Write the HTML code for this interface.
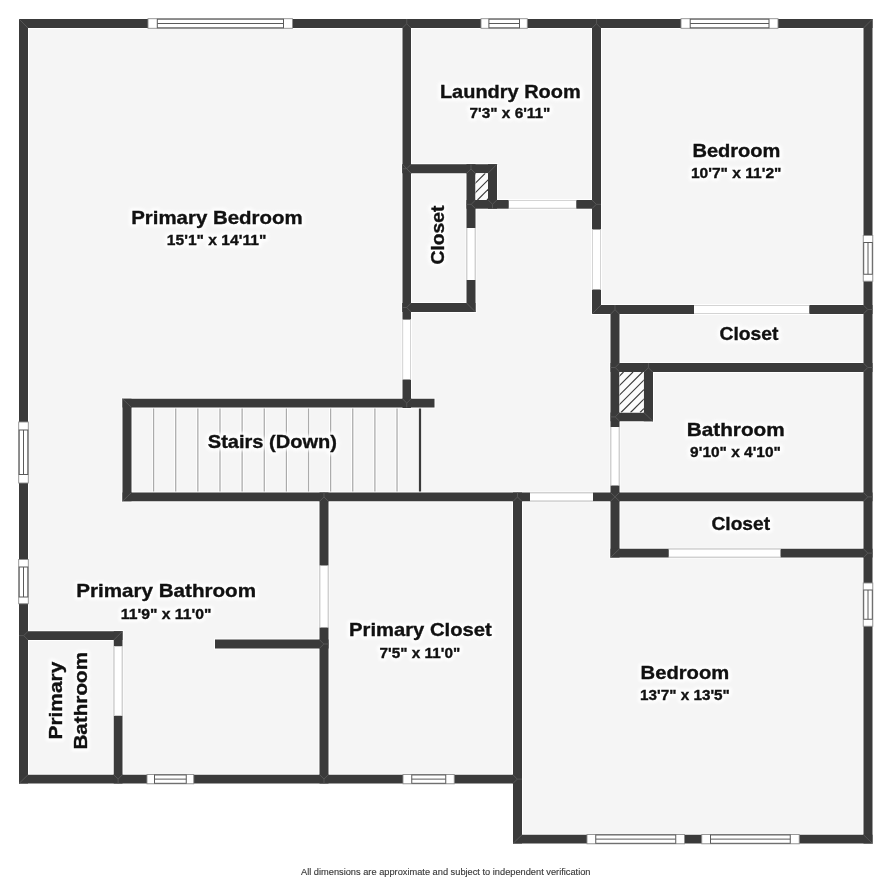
<!DOCTYPE html>
<html><head><meta charset="utf-8"><style>
html,body{margin:0;padding:0;background:#fff;width:891px;height:881px;overflow:hidden}
svg{display:block;will-change:transform}
text{font-family:"Liberation Sans",sans-serif;font-weight:bold;fill:#111;stroke:#111;stroke-width:0.35px;text-anchor:middle}
text.halo{fill:#fff;stroke:#fff;stroke-width:6px;stroke-linejoin:round;opacity:0.9;filter:url(#hb)}
</style></head><body>
<svg width="891" height="881" viewBox="0 0 891 881">
<defs><filter id="hb" x="-20%" y="-50%" width="140%" height="200%"><feGaussianBlur stdDeviation="1.6"/></filter></defs>
<rect x="19.00" y="19.00" width="853.50" height="482.25" fill="#f5f5f5"/>
<rect x="19.00" y="492.00" width="503.00" height="291.50" fill="#f5f5f5"/>
<rect x="513.00" y="492.00" width="359.50" height="351.50" fill="#f5f5f5"/>
<line x1="153.60" y1="407.50" x2="153.60" y2="492.50" stroke="#ffffff" stroke-width="3.2"/>
<line x1="153.60" y1="407.50" x2="153.60" y2="492.50" stroke="#ababab" stroke-width="1.3"/>
<line x1="175.73" y1="407.50" x2="175.73" y2="492.50" stroke="#ffffff" stroke-width="3.2"/>
<line x1="175.73" y1="407.50" x2="175.73" y2="492.50" stroke="#ababab" stroke-width="1.3"/>
<line x1="197.86" y1="407.50" x2="197.86" y2="492.50" stroke="#ffffff" stroke-width="3.2"/>
<line x1="197.86" y1="407.50" x2="197.86" y2="492.50" stroke="#ababab" stroke-width="1.3"/>
<line x1="219.99" y1="407.50" x2="219.99" y2="492.50" stroke="#ffffff" stroke-width="3.2"/>
<line x1="219.99" y1="407.50" x2="219.99" y2="492.50" stroke="#ababab" stroke-width="1.3"/>
<line x1="242.12" y1="407.50" x2="242.12" y2="492.50" stroke="#ffffff" stroke-width="3.2"/>
<line x1="242.12" y1="407.50" x2="242.12" y2="492.50" stroke="#ababab" stroke-width="1.3"/>
<line x1="264.25" y1="407.50" x2="264.25" y2="492.50" stroke="#ffffff" stroke-width="3.2"/>
<line x1="264.25" y1="407.50" x2="264.25" y2="492.50" stroke="#ababab" stroke-width="1.3"/>
<line x1="286.38" y1="407.50" x2="286.38" y2="492.50" stroke="#ffffff" stroke-width="3.2"/>
<line x1="286.38" y1="407.50" x2="286.38" y2="492.50" stroke="#ababab" stroke-width="1.3"/>
<line x1="308.51" y1="407.50" x2="308.51" y2="492.50" stroke="#ffffff" stroke-width="3.2"/>
<line x1="308.51" y1="407.50" x2="308.51" y2="492.50" stroke="#ababab" stroke-width="1.3"/>
<line x1="330.64" y1="407.50" x2="330.64" y2="492.50" stroke="#ffffff" stroke-width="3.2"/>
<line x1="330.64" y1="407.50" x2="330.64" y2="492.50" stroke="#ababab" stroke-width="1.3"/>
<line x1="352.77" y1="407.50" x2="352.77" y2="492.50" stroke="#ffffff" stroke-width="3.2"/>
<line x1="352.77" y1="407.50" x2="352.77" y2="492.50" stroke="#ababab" stroke-width="1.3"/>
<line x1="374.90" y1="407.50" x2="374.90" y2="492.50" stroke="#ffffff" stroke-width="3.2"/>
<line x1="374.90" y1="407.50" x2="374.90" y2="492.50" stroke="#ababab" stroke-width="1.3"/>
<line x1="397.03" y1="407.50" x2="397.03" y2="492.50" stroke="#ffffff" stroke-width="3.2"/>
<line x1="397.03" y1="407.50" x2="397.03" y2="492.50" stroke="#ababab" stroke-width="1.3"/>
<line x1="420.00" y1="407.50" x2="420.00" y2="492.50" stroke="#3a3a3a" stroke-width="2.2"/>
<rect x="19.00" y="19.00" width="853.50" height="9.00" fill="none" stroke="#ffffff" stroke-width="2.0"/>
<rect x="19.00" y="19.00" width="9.00" height="764.50" fill="none" stroke="#ffffff" stroke-width="2.0"/>
<rect x="863.50" y="19.00" width="9.00" height="824.50" fill="none" stroke="#ffffff" stroke-width="2.0"/>
<rect x="19.00" y="774.75" width="503.00" height="8.75" fill="none" stroke="#ffffff" stroke-width="2.0"/>
<rect x="513.00" y="834.75" width="359.50" height="8.75" fill="none" stroke="#ffffff" stroke-width="2.0"/>
<rect x="513.00" y="492.50" width="9.00" height="351.00" fill="none" stroke="#ffffff" stroke-width="2.0"/>
<rect x="402.50" y="19.00" width="8.50" height="389.00" fill="none" stroke="#ffffff" stroke-width="2.0"/>
<rect x="402.20" y="164.25" width="94.80" height="9.00" fill="none" stroke="#ffffff" stroke-width="2.0"/>
<rect x="466.50" y="164.25" width="9.00" height="147.75" fill="none" stroke="#ffffff" stroke-width="2.0"/>
<rect x="488.00" y="164.25" width="9.00" height="44.45" fill="none" stroke="#ffffff" stroke-width="2.0"/>
<rect x="466.50" y="200.00" width="134.50" height="8.70" fill="none" stroke="#ffffff" stroke-width="2.0"/>
<rect x="402.20" y="303.00" width="73.30" height="9.00" fill="none" stroke="#ffffff" stroke-width="2.0"/>
<rect x="592.00" y="19.00" width="9.00" height="295.00" fill="none" stroke="#ffffff" stroke-width="2.0"/>
<rect x="592.00" y="305.00" width="280.50" height="9.00" fill="none" stroke="#ffffff" stroke-width="2.0"/>
<rect x="610.50" y="305.00" width="9.00" height="252.50" fill="none" stroke="#ffffff" stroke-width="2.0"/>
<rect x="610.50" y="363.00" width="262.00" height="9.00" fill="none" stroke="#ffffff" stroke-width="2.0"/>
<rect x="643.75" y="363.00" width="9.25" height="58.25" fill="none" stroke="#ffffff" stroke-width="2.0"/>
<rect x="610.50" y="412.50" width="42.50" height="8.75" fill="none" stroke="#ffffff" stroke-width="2.0"/>
<rect x="122.50" y="492.50" width="750.00" height="8.75" fill="none" stroke="#ffffff" stroke-width="2.0"/>
<rect x="610.50" y="548.75" width="262.00" height="8.75" fill="none" stroke="#ffffff" stroke-width="2.0"/>
<rect x="122.50" y="398.75" width="312.00" height="8.75" fill="none" stroke="#ffffff" stroke-width="2.0"/>
<rect x="122.50" y="398.75" width="9.00" height="102.50" fill="none" stroke="#ffffff" stroke-width="2.0"/>
<rect x="319.50" y="492.50" width="9.00" height="291.00" fill="none" stroke="#ffffff" stroke-width="2.0"/>
<rect x="215.00" y="639.50" width="113.50" height="9.00" fill="none" stroke="#ffffff" stroke-width="2.0"/>
<rect x="19.00" y="631.25" width="103.50" height="8.75" fill="none" stroke="#ffffff" stroke-width="2.0"/>
<rect x="113.75" y="631.25" width="8.75" height="152.25" fill="none" stroke="#ffffff" stroke-width="2.0"/>
<rect x="19.00" y="19.00" width="853.50" height="9.00" fill="#3a3a3a"/>
<rect x="19.00" y="19.00" width="9.00" height="764.50" fill="#3a3a3a"/>
<rect x="863.50" y="19.00" width="9.00" height="824.50" fill="#3a3a3a"/>
<rect x="19.00" y="774.75" width="503.00" height="8.75" fill="#3a3a3a"/>
<rect x="513.00" y="834.75" width="359.50" height="8.75" fill="#3a3a3a"/>
<rect x="513.00" y="492.50" width="9.00" height="351.00" fill="#3a3a3a"/>
<rect x="402.50" y="19.00" width="8.50" height="389.00" fill="#3a3a3a"/>
<rect x="402.20" y="164.25" width="94.80" height="9.00" fill="#3a3a3a"/>
<rect x="466.50" y="164.25" width="9.00" height="147.75" fill="#3a3a3a"/>
<rect x="488.00" y="164.25" width="9.00" height="44.45" fill="#3a3a3a"/>
<rect x="466.50" y="200.00" width="134.50" height="8.70" fill="#3a3a3a"/>
<rect x="402.20" y="303.00" width="73.30" height="9.00" fill="#3a3a3a"/>
<rect x="592.00" y="19.00" width="9.00" height="295.00" fill="#3a3a3a"/>
<rect x="592.00" y="305.00" width="280.50" height="9.00" fill="#3a3a3a"/>
<rect x="610.50" y="305.00" width="9.00" height="252.50" fill="#3a3a3a"/>
<rect x="610.50" y="363.00" width="262.00" height="9.00" fill="#3a3a3a"/>
<rect x="643.75" y="363.00" width="9.25" height="58.25" fill="#3a3a3a"/>
<rect x="610.50" y="412.50" width="42.50" height="8.75" fill="#3a3a3a"/>
<rect x="122.50" y="492.50" width="750.00" height="8.75" fill="#3a3a3a"/>
<rect x="610.50" y="548.75" width="262.00" height="8.75" fill="#3a3a3a"/>
<rect x="122.50" y="398.75" width="312.00" height="8.75" fill="#3a3a3a"/>
<rect x="122.50" y="398.75" width="9.00" height="102.50" fill="#3a3a3a"/>
<rect x="319.50" y="492.50" width="9.00" height="291.00" fill="#3a3a3a"/>
<rect x="215.00" y="639.50" width="113.50" height="9.00" fill="#3a3a3a"/>
<rect x="19.00" y="631.25" width="103.50" height="8.75" fill="#3a3a3a"/>
<rect x="113.75" y="631.25" width="8.75" height="152.25" fill="#3a3a3a"/>
<line x1="19.00" y1="19.00" x2="28.00" y2="28.00" stroke="#585858" stroke-width="0.9"/>
<line x1="872.50" y1="19.00" x2="863.50" y2="28.00" stroke="#585858" stroke-width="0.9"/>
<line x1="19.00" y1="783.50" x2="28.00" y2="774.75" stroke="#585858" stroke-width="0.9"/>
<line x1="872.50" y1="843.50" x2="863.50" y2="834.75" stroke="#585858" stroke-width="0.9"/>
<line x1="513.00" y1="843.50" x2="522.00" y2="834.75" stroke="#585858" stroke-width="0.9"/>
<line x1="402.45" y1="28.00" x2="406.75" y2="23.70" stroke="#585858" stroke-width="0.9"/>
<line x1="411.05" y1="28.00" x2="406.75" y2="23.70" stroke="#585858" stroke-width="0.9"/>
<line x1="406.75" y1="23.70" x2="406.75" y2="19.00" stroke="#585858" stroke-width="0.9"/>
<line x1="592.20" y1="28.00" x2="596.50" y2="23.70" stroke="#585858" stroke-width="0.9"/>
<line x1="600.80" y1="28.00" x2="596.50" y2="23.70" stroke="#585858" stroke-width="0.9"/>
<line x1="596.50" y1="23.70" x2="596.50" y2="19.00" stroke="#585858" stroke-width="0.9"/>
<line x1="466.70" y1="173.25" x2="471.00" y2="168.95" stroke="#585858" stroke-width="0.9"/>
<line x1="475.30" y1="173.25" x2="471.00" y2="168.95" stroke="#585858" stroke-width="0.9"/>
<line x1="471.00" y1="168.95" x2="471.00" y2="164.25" stroke="#585858" stroke-width="0.9"/>
<line x1="610.70" y1="314.00" x2="615.00" y2="309.70" stroke="#585858" stroke-width="0.9"/>
<line x1="619.30" y1="314.00" x2="615.00" y2="309.70" stroke="#585858" stroke-width="0.9"/>
<line x1="615.00" y1="309.70" x2="615.00" y2="305.00" stroke="#585858" stroke-width="0.9"/>
<line x1="513.20" y1="501.25" x2="517.50" y2="496.95" stroke="#585858" stroke-width="0.9"/>
<line x1="521.80" y1="501.25" x2="517.50" y2="496.95" stroke="#585858" stroke-width="0.9"/>
<line x1="517.50" y1="496.95" x2="517.50" y2="492.50" stroke="#585858" stroke-width="0.9"/>
<line x1="319.70" y1="501.25" x2="324.00" y2="496.95" stroke="#585858" stroke-width="0.9"/>
<line x1="328.30" y1="501.25" x2="324.00" y2="496.95" stroke="#585858" stroke-width="0.9"/>
<line x1="324.00" y1="496.95" x2="324.00" y2="492.50" stroke="#585858" stroke-width="0.9"/>
<line x1="644.10" y1="372.00" x2="648.40" y2="367.70" stroke="#585858" stroke-width="0.9"/>
<line x1="652.70" y1="372.00" x2="648.40" y2="367.70" stroke="#585858" stroke-width="0.9"/>
<line x1="648.40" y1="367.70" x2="648.40" y2="363.00" stroke="#585858" stroke-width="0.9"/>
<line x1="488.20" y1="200.00" x2="492.50" y2="204.30" stroke="#585858" stroke-width="0.9"/>
<line x1="496.80" y1="200.00" x2="492.50" y2="204.30" stroke="#585858" stroke-width="0.9"/>
<line x1="492.50" y1="204.30" x2="492.50" y2="208.70" stroke="#585858" stroke-width="0.9"/>
<line x1="402.45" y1="398.75" x2="406.75" y2="403.05" stroke="#585858" stroke-width="0.9"/>
<line x1="411.05" y1="398.75" x2="406.75" y2="403.05" stroke="#585858" stroke-width="0.9"/>
<line x1="406.75" y1="403.05" x2="406.75" y2="407.50" stroke="#585858" stroke-width="0.9"/>
<line x1="319.70" y1="774.75" x2="324.00" y2="779.05" stroke="#585858" stroke-width="0.9"/>
<line x1="328.30" y1="774.75" x2="324.00" y2="779.05" stroke="#585858" stroke-width="0.9"/>
<line x1="324.00" y1="779.05" x2="324.00" y2="783.50" stroke="#585858" stroke-width="0.9"/>
<line x1="113.80" y1="774.75" x2="118.10" y2="779.05" stroke="#585858" stroke-width="0.9"/>
<line x1="122.40" y1="774.75" x2="118.10" y2="779.05" stroke="#585858" stroke-width="0.9"/>
<line x1="118.10" y1="779.05" x2="118.10" y2="783.50" stroke="#585858" stroke-width="0.9"/>
<line x1="28.00" y1="631.30" x2="23.70" y2="635.60" stroke="#585858" stroke-width="0.9"/>
<line x1="28.00" y1="639.90" x2="23.70" y2="635.60" stroke="#585858" stroke-width="0.9"/>
<line x1="23.70" y1="635.60" x2="19.00" y2="635.60" stroke="#585858" stroke-width="0.9"/>
<line x1="411.00" y1="164.45" x2="406.70" y2="168.75" stroke="#585858" stroke-width="0.9"/>
<line x1="411.00" y1="173.05" x2="406.70" y2="168.75" stroke="#585858" stroke-width="0.9"/>
<line x1="406.70" y1="168.75" x2="402.50" y2="168.75" stroke="#585858" stroke-width="0.9"/>
<line x1="411.00" y1="303.20" x2="406.70" y2="307.50" stroke="#585858" stroke-width="0.9"/>
<line x1="411.00" y1="311.80" x2="406.70" y2="307.50" stroke="#585858" stroke-width="0.9"/>
<line x1="406.70" y1="307.50" x2="402.50" y2="307.50" stroke="#585858" stroke-width="0.9"/>
<line x1="619.50" y1="363.20" x2="615.20" y2="367.50" stroke="#585858" stroke-width="0.9"/>
<line x1="619.50" y1="371.80" x2="615.20" y2="367.50" stroke="#585858" stroke-width="0.9"/>
<line x1="615.20" y1="367.50" x2="610.50" y2="367.50" stroke="#585858" stroke-width="0.9"/>
<line x1="619.50" y1="412.60" x2="615.20" y2="416.90" stroke="#585858" stroke-width="0.9"/>
<line x1="619.50" y1="421.20" x2="615.20" y2="416.90" stroke="#585858" stroke-width="0.9"/>
<line x1="615.20" y1="416.90" x2="610.50" y2="416.90" stroke="#585858" stroke-width="0.9"/>
<line x1="475.50" y1="200.05" x2="471.20" y2="204.35" stroke="#585858" stroke-width="0.9"/>
<line x1="475.50" y1="208.65" x2="471.20" y2="204.35" stroke="#585858" stroke-width="0.9"/>
<line x1="471.20" y1="204.35" x2="466.50" y2="204.35" stroke="#585858" stroke-width="0.9"/>
<line x1="863.50" y1="305.20" x2="867.80" y2="309.50" stroke="#585858" stroke-width="0.9"/>
<line x1="863.50" y1="313.80" x2="867.80" y2="309.50" stroke="#585858" stroke-width="0.9"/>
<line x1="867.80" y1="309.50" x2="872.50" y2="309.50" stroke="#585858" stroke-width="0.9"/>
<line x1="863.50" y1="363.20" x2="867.80" y2="367.50" stroke="#585858" stroke-width="0.9"/>
<line x1="863.50" y1="371.80" x2="867.80" y2="367.50" stroke="#585858" stroke-width="0.9"/>
<line x1="867.80" y1="367.50" x2="872.50" y2="367.50" stroke="#585858" stroke-width="0.9"/>
<line x1="863.50" y1="492.60" x2="867.80" y2="496.90" stroke="#585858" stroke-width="0.9"/>
<line x1="863.50" y1="501.20" x2="867.80" y2="496.90" stroke="#585858" stroke-width="0.9"/>
<line x1="867.80" y1="496.90" x2="872.50" y2="496.90" stroke="#585858" stroke-width="0.9"/>
<line x1="863.50" y1="548.80" x2="867.80" y2="553.10" stroke="#585858" stroke-width="0.9"/>
<line x1="863.50" y1="557.40" x2="867.80" y2="553.10" stroke="#585858" stroke-width="0.9"/>
<line x1="867.80" y1="553.10" x2="872.50" y2="553.10" stroke="#585858" stroke-width="0.9"/>
<line x1="592.00" y1="200.05" x2="596.30" y2="204.35" stroke="#585858" stroke-width="0.9"/>
<line x1="592.00" y1="208.65" x2="596.30" y2="204.35" stroke="#585858" stroke-width="0.9"/>
<line x1="596.30" y1="204.35" x2="601.00" y2="204.35" stroke="#585858" stroke-width="0.9"/>
<line x1="513.00" y1="774.80" x2="517.30" y2="779.10" stroke="#585858" stroke-width="0.9"/>
<line x1="513.00" y1="783.40" x2="517.30" y2="779.10" stroke="#585858" stroke-width="0.9"/>
<line x1="517.30" y1="779.10" x2="522.00" y2="779.10" stroke="#585858" stroke-width="0.9"/>
<line x1="319.50" y1="639.70" x2="323.80" y2="644.00" stroke="#585858" stroke-width="0.9"/>
<line x1="319.50" y1="648.30" x2="323.80" y2="644.00" stroke="#585858" stroke-width="0.9"/>
<line x1="323.80" y1="644.00" x2="328.50" y2="644.00" stroke="#585858" stroke-width="0.9"/>
<line x1="592.00" y1="314.00" x2="601.00" y2="305.00" stroke="#585858" stroke-width="0.9"/>
<line x1="122.50" y1="631.25" x2="113.75" y2="640.00" stroke="#585858" stroke-width="0.9"/>
<line x1="475.50" y1="312.00" x2="466.50" y2="303.00" stroke="#585858" stroke-width="0.9"/>
<line x1="497.00" y1="164.25" x2="488.00" y2="173.25" stroke="#585858" stroke-width="0.9"/>
<line x1="653.00" y1="421.25" x2="643.75" y2="412.50" stroke="#585858" stroke-width="0.9"/>
<line x1="610.50" y1="557.50" x2="619.50" y2="548.75" stroke="#585858" stroke-width="0.9"/>
<line x1="122.50" y1="398.75" x2="131.50" y2="407.50" stroke="#585858" stroke-width="0.9"/>
<line x1="122.50" y1="501.25" x2="131.50" y2="492.50" stroke="#585858" stroke-width="0.9"/>
<line x1="402.50" y1="164.25" x2="411.00" y2="173.25" stroke="#585858" stroke-width="0.9"/>
<line x1="610.50" y1="492.50" x2="615.00" y2="496.88" stroke="#585858" stroke-width="0.9"/>
<line x1="619.50" y1="492.50" x2="615.00" y2="496.88" stroke="#585858" stroke-width="0.9"/>
<line x1="610.50" y1="501.25" x2="615.00" y2="496.88" stroke="#585858" stroke-width="0.9"/>
<line x1="619.50" y1="501.25" x2="615.00" y2="496.88" stroke="#585858" stroke-width="0.9"/>
<clipPath id="h1"><rect x="475.5" y="173.25" width="12.5" height="26.75"/></clipPath>
<rect x="475.50" y="173.25" width="12.50" height="26.75" fill="#fbfbfb"/>
<g clip-path="url(#h1)" stroke="#3a3a3a" stroke-width="1.15"><line x1="363.50" y1="200" x2="390.25" y2="173.25"/><line x1="373.00" y1="200" x2="399.75" y2="173.25"/><line x1="382.50" y1="200" x2="409.25" y2="173.25"/><line x1="392.00" y1="200" x2="418.75" y2="173.25"/><line x1="401.50" y1="200" x2="428.25" y2="173.25"/><line x1="411.00" y1="200" x2="437.75" y2="173.25"/><line x1="420.50" y1="200" x2="447.25" y2="173.25"/><line x1="430.00" y1="200" x2="456.75" y2="173.25"/><line x1="439.50" y1="200" x2="466.25" y2="173.25"/><line x1="449.00" y1="200" x2="475.75" y2="173.25"/><line x1="458.50" y1="200" x2="485.25" y2="173.25"/><line x1="468.00" y1="200" x2="494.75" y2="173.25"/><line x1="477.50" y1="200" x2="504.25" y2="173.25"/><line x1="487.00" y1="200" x2="513.75" y2="173.25"/><line x1="496.50" y1="200" x2="523.25" y2="173.25"/></g>
<clipPath id="h2"><rect x="619.5" y="372" width="24.25" height="40.5"/></clipPath>
<rect x="619.50" y="372.00" width="24.25" height="40.50" fill="#fbfbfb"/>
<g clip-path="url(#h2)" stroke="#3a3a3a" stroke-width="1.15"><line x1="488.00" y1="412.5" x2="528.50" y2="372"/><line x1="497.50" y1="412.5" x2="538.00" y2="372"/><line x1="507.00" y1="412.5" x2="547.50" y2="372"/><line x1="516.50" y1="412.5" x2="557.00" y2="372"/><line x1="526.00" y1="412.5" x2="566.50" y2="372"/><line x1="535.50" y1="412.5" x2="576.00" y2="372"/><line x1="545.00" y1="412.5" x2="585.50" y2="372"/><line x1="554.50" y1="412.5" x2="595.00" y2="372"/><line x1="564.00" y1="412.5" x2="604.50" y2="372"/><line x1="573.50" y1="412.5" x2="614.00" y2="372"/><line x1="583.00" y1="412.5" x2="623.50" y2="372"/><line x1="592.50" y1="412.5" x2="633.00" y2="372"/><line x1="602.00" y1="412.5" x2="642.50" y2="372"/><line x1="611.50" y1="412.5" x2="652.00" y2="372"/><line x1="621.00" y1="412.5" x2="661.50" y2="372"/><line x1="630.50" y1="412.5" x2="671.00" y2="372"/><line x1="640.00" y1="412.5" x2="680.50" y2="372"/><line x1="649.50" y1="412.5" x2="690.00" y2="372"/></g>
<rect x="402.20" y="319.60" width="8.80" height="59.90" fill="#ffffff"/>
<line x1="402.70" y1="319.60" x2="402.70" y2="379.50" stroke="#d4d4d4" stroke-width="1"/>
<line x1="410.50" y1="319.60" x2="410.50" y2="379.50" stroke="#d4d4d4" stroke-width="1"/>
<rect x="466.50" y="228.00" width="9.00" height="52.00" fill="#ffffff"/>
<line x1="467.00" y1="228.00" x2="467.00" y2="280.00" stroke="#d4d4d4" stroke-width="1"/>
<line x1="475.00" y1="228.00" x2="475.00" y2="280.00" stroke="#d4d4d4" stroke-width="1"/>
<rect x="508.75" y="200.00" width="67.50" height="8.70" fill="#ffffff"/>
<line x1="508.75" y1="200.50" x2="576.25" y2="200.50" stroke="#d4d4d4" stroke-width="1"/>
<line x1="508.75" y1="208.20" x2="576.25" y2="208.20" stroke="#d4d4d4" stroke-width="1"/>
<rect x="592.00" y="229.50" width="9.00" height="60.00" fill="#ffffff"/>
<line x1="592.50" y1="229.50" x2="592.50" y2="289.50" stroke="#d4d4d4" stroke-width="1"/>
<line x1="600.50" y1="229.50" x2="600.50" y2="289.50" stroke="#d4d4d4" stroke-width="1"/>
<rect x="694.00" y="305.00" width="115.25" height="9.00" fill="#ffffff"/>
<line x1="694.00" y1="305.50" x2="809.25" y2="305.50" stroke="#d4d4d4" stroke-width="1"/>
<line x1="694.00" y1="313.50" x2="809.25" y2="313.50" stroke="#d4d4d4" stroke-width="1"/>
<rect x="610.50" y="427.00" width="9.00" height="58.50" fill="#ffffff"/>
<line x1="611.00" y1="427.00" x2="611.00" y2="485.50" stroke="#d4d4d4" stroke-width="1"/>
<line x1="619.00" y1="427.00" x2="619.00" y2="485.50" stroke="#d4d4d4" stroke-width="1"/>
<rect x="530.00" y="492.50" width="63.00" height="8.75" fill="#ffffff"/>
<line x1="530.00" y1="493.00" x2="593.00" y2="493.00" stroke="#d4d4d4" stroke-width="1"/>
<line x1="530.00" y1="500.75" x2="593.00" y2="500.75" stroke="#d4d4d4" stroke-width="1"/>
<rect x="668.75" y="548.75" width="111.75" height="8.75" fill="#ffffff"/>
<line x1="668.75" y1="549.25" x2="780.50" y2="549.25" stroke="#d4d4d4" stroke-width="1"/>
<line x1="668.75" y1="557.00" x2="780.50" y2="557.00" stroke="#d4d4d4" stroke-width="1"/>
<rect x="319.50" y="565.50" width="9.00" height="62.00" fill="#ffffff"/>
<line x1="320.00" y1="565.50" x2="320.00" y2="627.50" stroke="#d4d4d4" stroke-width="1"/>
<line x1="328.00" y1="565.50" x2="328.00" y2="627.50" stroke="#d4d4d4" stroke-width="1"/>
<rect x="113.75" y="646.25" width="8.75" height="69.50" fill="#ffffff"/>
<line x1="114.25" y1="646.25" x2="114.25" y2="715.75" stroke="#d4d4d4" stroke-width="1"/>
<line x1="122.00" y1="646.25" x2="122.00" y2="715.75" stroke="#d4d4d4" stroke-width="1"/>
<rect x="148.00" y="18.70" width="144.50" height="9.60" fill="#ffffff" stroke="#8e8e8e" stroke-width="0.9"/>
<rect x="157.30" y="19.20" width="126.20" height="8.60" fill="#ffffff" stroke="#5a5a5a" stroke-width="1"/>
<line x1="157.30" y1="23.50" x2="283.50" y2="23.50" stroke="#5a5a5a" stroke-width="1"/>
<rect x="481.00" y="18.70" width="46.30" height="9.60" fill="#ffffff" stroke="#8e8e8e" stroke-width="0.9"/>
<rect x="488.90" y="19.20" width="30.60" height="8.60" fill="#ffffff" stroke="#5a5a5a" stroke-width="1"/>
<line x1="488.90" y1="23.50" x2="519.50" y2="23.50" stroke="#5a5a5a" stroke-width="1"/>
<rect x="681.00" y="18.70" width="97.00" height="9.60" fill="#ffffff" stroke="#8e8e8e" stroke-width="0.9"/>
<rect x="690.20" y="19.20" width="78.80" height="8.60" fill="#ffffff" stroke="#5a5a5a" stroke-width="1"/>
<line x1="690.20" y1="23.50" x2="769.00" y2="23.50" stroke="#5a5a5a" stroke-width="1"/>
<rect x="147.00" y="774.45" width="46.75" height="9.35" fill="#ffffff" stroke="#8e8e8e" stroke-width="0.9"/>
<rect x="154.50" y="774.95" width="31.75" height="8.35" fill="#ffffff" stroke="#5a5a5a" stroke-width="1"/>
<line x1="154.50" y1="779.12" x2="186.25" y2="779.12" stroke="#5a5a5a" stroke-width="1"/>
<rect x="403.00" y="774.45" width="51.25" height="9.35" fill="#ffffff" stroke="#8e8e8e" stroke-width="0.9"/>
<rect x="411.75" y="774.95" width="34.00" height="8.35" fill="#ffffff" stroke="#5a5a5a" stroke-width="1"/>
<line x1="411.75" y1="779.12" x2="445.75" y2="779.12" stroke="#5a5a5a" stroke-width="1"/>
<rect x="587.00" y="834.45" width="97.50" height="9.35" fill="#ffffff" stroke="#8e8e8e" stroke-width="0.9"/>
<rect x="595.75" y="834.95" width="80.00" height="8.35" fill="#ffffff" stroke="#5a5a5a" stroke-width="1"/>
<line x1="595.75" y1="839.12" x2="675.75" y2="839.12" stroke="#5a5a5a" stroke-width="1"/>
<rect x="701.75" y="834.45" width="97.50" height="9.35" fill="#ffffff" stroke="#8e8e8e" stroke-width="0.9"/>
<rect x="710.50" y="834.95" width="79.75" height="8.35" fill="#ffffff" stroke="#5a5a5a" stroke-width="1"/>
<line x1="710.50" y1="839.12" x2="790.25" y2="839.12" stroke="#5a5a5a" stroke-width="1"/>
<rect x="18.70" y="422.00" width="9.60" height="61.00" fill="#ffffff" stroke="#8e8e8e" stroke-width="0.9"/>
<rect x="19.20" y="430.00" width="8.60" height="44.50" fill="#ffffff" stroke="#5a5a5a" stroke-width="1"/>
<line x1="23.50" y1="430.00" x2="23.50" y2="474.50" stroke="#5a5a5a" stroke-width="1"/>
<rect x="18.70" y="559.50" width="9.60" height="44.25" fill="#ffffff" stroke="#8e8e8e" stroke-width="0.9"/>
<rect x="19.20" y="567.00" width="8.60" height="30.00" fill="#ffffff" stroke="#5a5a5a" stroke-width="1"/>
<line x1="23.50" y1="567.00" x2="23.50" y2="597.00" stroke="#5a5a5a" stroke-width="1"/>
<rect x="863.20" y="235.50" width="9.60" height="45.75" fill="#ffffff" stroke="#8e8e8e" stroke-width="0.9"/>
<rect x="863.70" y="242.50" width="8.60" height="31.75" fill="#ffffff" stroke="#5a5a5a" stroke-width="1"/>
<line x1="868.00" y1="242.50" x2="868.00" y2="274.25" stroke="#5a5a5a" stroke-width="1"/>
<rect x="863.20" y="583.00" width="9.60" height="43.25" fill="#ffffff" stroke="#8e8e8e" stroke-width="0.9"/>
<rect x="863.70" y="590.00" width="8.60" height="29.25" fill="#ffffff" stroke="#5a5a5a" stroke-width="1"/>
<line x1="868.00" y1="590.00" x2="868.00" y2="619.25" stroke="#5a5a5a" stroke-width="1"/>
<text class="halo" x="216.89" y="224.04" font-size="18.600" textLength="171.39" lengthAdjust="spacingAndGlyphs">Primary Bedroom</text>
<text x="216.89" y="224.04" font-size="18.600" textLength="171.39" lengthAdjust="spacingAndGlyphs">Primary Bedroom</text>
<text class="halo" x="216.57" y="245.08" font-size="14.800" textLength="99.49" lengthAdjust="spacingAndGlyphs">15'1&quot; x 14'11&quot;</text>
<text x="216.57" y="245.08" font-size="14.800" textLength="99.49" lengthAdjust="spacingAndGlyphs">15'1&quot; x 14'11&quot;</text>
<text class="halo" x="510.34" y="97.84" font-size="18.600" textLength="140.78" lengthAdjust="spacingAndGlyphs">Laundry Room</text>
<text x="510.34" y="97.84" font-size="18.600" textLength="140.78" lengthAdjust="spacingAndGlyphs">Laundry Room</text>
<text class="halo" x="509.99" y="117.98" font-size="14.800" textLength="80.80" lengthAdjust="spacingAndGlyphs">7'3&quot; x 6'11&quot;</text>
<text x="509.99" y="117.98" font-size="14.800" textLength="80.80" lengthAdjust="spacingAndGlyphs">7'3&quot; x 6'11&quot;</text>
<text class="halo" x="736.42" y="157.29" font-size="18.600" textLength="88.05" lengthAdjust="spacingAndGlyphs">Bedroom</text>
<text x="736.42" y="157.29" font-size="18.600" textLength="88.05" lengthAdjust="spacingAndGlyphs">Bedroom</text>
<text class="halo" x="736.20" y="178.38" font-size="14.800" textLength="90.59" lengthAdjust="spacingAndGlyphs">10'7&quot; x 11'2&quot;</text>
<text x="736.20" y="178.38" font-size="14.800" textLength="90.59" lengthAdjust="spacingAndGlyphs">10'7&quot; x 11'2&quot;</text>
<text class="halo" x="749.03" y="339.67" font-size="18.600" textLength="58.98" lengthAdjust="spacingAndGlyphs">Closet</text>
<text x="749.03" y="339.67" font-size="18.600" textLength="58.98" lengthAdjust="spacingAndGlyphs">Closet</text>
<text class="halo" x="735.74" y="435.64" font-size="18.600" textLength="98.13" lengthAdjust="spacingAndGlyphs">Bathroom</text>
<text x="735.74" y="435.64" font-size="18.600" textLength="98.13" lengthAdjust="spacingAndGlyphs">Bathroom</text>
<text class="halo" x="735.49" y="456.58" font-size="14.800" textLength="90.76" lengthAdjust="spacingAndGlyphs">9'10&quot; x 4'10&quot;</text>
<text x="735.49" y="456.58" font-size="14.800" textLength="90.76" lengthAdjust="spacingAndGlyphs">9'10&quot; x 4'10&quot;</text>
<text class="halo" x="272.36" y="447.59" font-size="18.600" textLength="129.16" lengthAdjust="spacingAndGlyphs">Stairs (Down)</text>
<text x="272.36" y="447.59" font-size="18.600" textLength="129.16" lengthAdjust="spacingAndGlyphs">Stairs (Down)</text>
<text class="halo" x="740.78" y="530.32" font-size="18.600" textLength="58.57" lengthAdjust="spacingAndGlyphs">Closet</text>
<text x="740.78" y="530.32" font-size="18.600" textLength="58.57" lengthAdjust="spacingAndGlyphs">Closet</text>
<text class="halo" x="166.10" y="597.44" font-size="18.600" textLength="179.86" lengthAdjust="spacingAndGlyphs">Primary Bathroom</text>
<text x="166.10" y="597.44" font-size="18.600" textLength="179.86" lengthAdjust="spacingAndGlyphs">Primary Bathroom</text>
<text class="halo" x="166.10" y="618.78" font-size="14.800" textLength="90.57" lengthAdjust="spacingAndGlyphs">11'9&quot; x 11'0&quot;</text>
<text x="166.10" y="618.78" font-size="14.800" textLength="90.57" lengthAdjust="spacingAndGlyphs">11'9&quot; x 11'0&quot;</text>
<text class="halo" x="420.41" y="636.04" font-size="18.600" textLength="142.60" lengthAdjust="spacingAndGlyphs">Primary Closet</text>
<text x="420.41" y="636.04" font-size="18.600" textLength="142.60" lengthAdjust="spacingAndGlyphs">Primary Closet</text>
<text class="halo" x="419.91" y="657.53" font-size="14.800" textLength="80.62" lengthAdjust="spacingAndGlyphs">7'5&quot; x 11'0&quot;</text>
<text x="419.91" y="657.53" font-size="14.800" textLength="80.62" lengthAdjust="spacingAndGlyphs">7'5&quot; x 11'0&quot;</text>
<text class="halo" x="684.92" y="678.64" font-size="18.600" textLength="88.66" lengthAdjust="spacingAndGlyphs">Bedroom</text>
<text x="684.92" y="678.64" font-size="18.600" textLength="88.66" lengthAdjust="spacingAndGlyphs">Bedroom</text>
<text class="halo" x="684.94" y="699.88" font-size="14.800" textLength="89.78" lengthAdjust="spacingAndGlyphs">13'7&quot; x 13'5&quot;</text>
<text x="684.94" y="699.88" font-size="14.800" textLength="89.78" lengthAdjust="spacingAndGlyphs">13'7&quot; x 13'5&quot;</text>
<text class="halo" transform="translate(443.79,235.06) rotate(-90)" x="0" y="0" font-size="18.600" textLength="59.11" lengthAdjust="spacingAndGlyphs">Closet</text>
<text transform="translate(443.79,235.06) rotate(-90)" x="0" y="0" font-size="18.600" textLength="59.11" lengthAdjust="spacingAndGlyphs">Closet</text>
<text class="halo" transform="translate(61.74,700.59) rotate(-90)" x="0" y="0" font-size="18.600" textLength="77.96" lengthAdjust="spacingAndGlyphs">Primary</text>
<text transform="translate(61.74,700.59) rotate(-90)" x="0" y="0" font-size="18.600" textLength="77.96" lengthAdjust="spacingAndGlyphs">Primary</text>
<text class="halo" transform="translate(86.99,700.77) rotate(-90)" x="0" y="0" font-size="18.600" textLength="97.61" lengthAdjust="spacingAndGlyphs">Bathroom</text>
<text transform="translate(86.99,700.77) rotate(-90)" x="0" y="0" font-size="18.600" textLength="97.61" lengthAdjust="spacingAndGlyphs">Bathroom</text>
<text x="445.75" y="874.8" font-size="9.3" style="font-weight:normal;fill:#3a3a3a;stroke:#3a3a3a;stroke-width:0.15px" textLength="289.5" lengthAdjust="spacingAndGlyphs">All dimensions are approximate and subject to independent verification</text>
</svg>
</body></html>
